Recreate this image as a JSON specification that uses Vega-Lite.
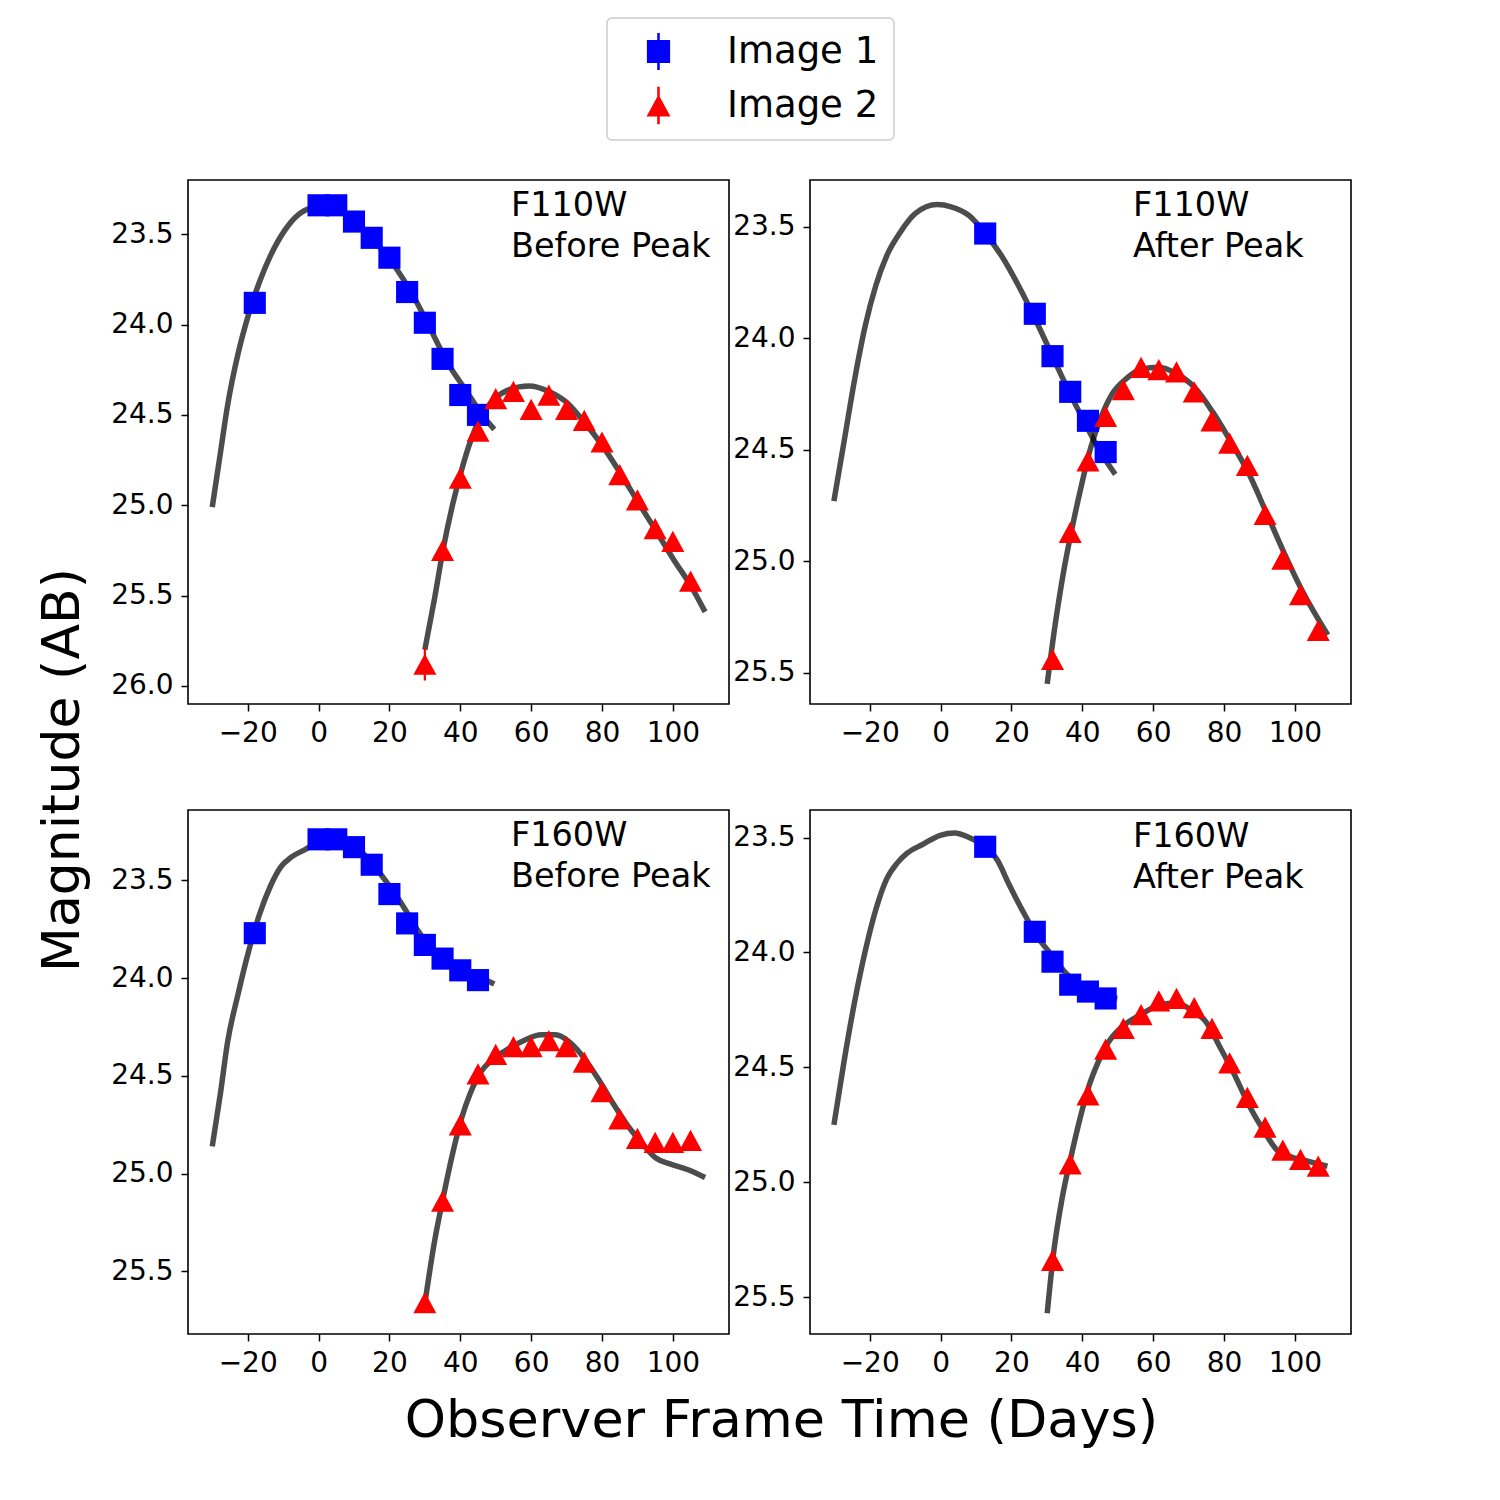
{
  "$schema": "https://vega.github.io/schema/vega-lite/v6.json",
  "background": "white",
  "padding": {"left": 35, "top": 17, "right": 5, "bottom": 5},
  "datasets": {
    "obs": [
      {"band": "F110W", "epoch": "Before Peak", "image": "Image 1", "t": -18, "mag": 23.88},
      {"band": "F110W", "epoch": "Before Peak", "image": "Image 1", "t": 0, "mag": 23.34},
      {"band": "F110W", "epoch": "Before Peak", "image": "Image 1", "t": 5, "mag": 23.34},
      {"band": "F110W", "epoch": "Before Peak", "image": "Image 1", "t": 10, "mag": 23.43},
      {"band": "F110W", "epoch": "Before Peak", "image": "Image 1", "t": 15, "mag": 23.52},
      {"band": "F110W", "epoch": "Before Peak", "image": "Image 1", "t": 20, "mag": 23.63},
      {"band": "F110W", "epoch": "Before Peak", "image": "Image 1", "t": 25, "mag": 23.82},
      {"band": "F110W", "epoch": "Before Peak", "image": "Image 1", "t": 30, "mag": 23.99},
      {"band": "F110W", "epoch": "Before Peak", "image": "Image 1", "t": 35, "mag": 24.19},
      {"band": "F110W", "epoch": "Before Peak", "image": "Image 1", "t": 40, "mag": 24.39},
      {"band": "F110W", "epoch": "Before Peak", "image": "Image 1", "t": 45, "mag": 24.50},
      {"band": "F110W", "epoch": "Before Peak", "image": "Image 2", "t": 30, "mag": 25.88, "err": 0.09},
      {"band": "F110W", "epoch": "Before Peak", "image": "Image 2", "t": 35, "mag": 25.25},
      {"band": "F110W", "epoch": "Before Peak", "image": "Image 2", "t": 40, "mag": 24.85},
      {"band": "F110W", "epoch": "Before Peak", "image": "Image 2", "t": 45, "mag": 24.59},
      {"band": "F110W", "epoch": "Before Peak", "image": "Image 2", "t": 50, "mag": 24.41},
      {"band": "F110W", "epoch": "Before Peak", "image": "Image 2", "t": 55, "mag": 24.37},
      {"band": "F110W", "epoch": "Before Peak", "image": "Image 2", "t": 60, "mag": 24.47},
      {"band": "F110W", "epoch": "Before Peak", "image": "Image 2", "t": 65, "mag": 24.39},
      {"band": "F110W", "epoch": "Before Peak", "image": "Image 2", "t": 70, "mag": 24.47},
      {"band": "F110W", "epoch": "Before Peak", "image": "Image 2", "t": 75, "mag": 24.53},
      {"band": "F110W", "epoch": "Before Peak", "image": "Image 2", "t": 80, "mag": 24.65},
      {"band": "F110W", "epoch": "Before Peak", "image": "Image 2", "t": 85, "mag": 24.83},
      {"band": "F110W", "epoch": "Before Peak", "image": "Image 2", "t": 90, "mag": 24.97},
      {"band": "F110W", "epoch": "Before Peak", "image": "Image 2", "t": 95, "mag": 25.13},
      {"band": "F110W", "epoch": "Before Peak", "image": "Image 2", "t": 100, "mag": 25.20},
      {"band": "F110W", "epoch": "Before Peak", "image": "Image 2", "t": 105, "mag": 25.42},

      {"band": "F110W", "epoch": "After Peak", "image": "Image 1", "t": 12.6, "mag": 23.53},
      {"band": "F110W", "epoch": "After Peak", "image": "Image 1", "t": 26.6, "mag": 23.89},
      {"band": "F110W", "epoch": "After Peak", "image": "Image 1", "t": 31.6, "mag": 24.08},
      {"band": "F110W", "epoch": "After Peak", "image": "Image 1", "t": 36.6, "mag": 24.24},
      {"band": "F110W", "epoch": "After Peak", "image": "Image 1", "t": 41.6, "mag": 24.37},
      {"band": "F110W", "epoch": "After Peak", "image": "Image 1", "t": 46.6, "mag": 24.51},
      {"band": "F110W", "epoch": "After Peak", "image": "Image 2", "t": 31.6, "mag": 25.44},
      {"band": "F110W", "epoch": "After Peak", "image": "Image 2", "t": 36.6, "mag": 24.87},
      {"band": "F110W", "epoch": "After Peak", "image": "Image 2", "t": 41.6, "mag": 24.55},
      {"band": "F110W", "epoch": "After Peak", "image": "Image 2", "t": 46.6, "mag": 24.35},
      {"band": "F110W", "epoch": "After Peak", "image": "Image 2", "t": 51.6, "mag": 24.23},
      {"band": "F110W", "epoch": "After Peak", "image": "Image 2", "t": 56.6, "mag": 24.13},
      {"band": "F110W", "epoch": "After Peak", "image": "Image 2", "t": 61.6, "mag": 24.14},
      {"band": "F110W", "epoch": "After Peak", "image": "Image 2", "t": 66.6, "mag": 24.15},
      {"band": "F110W", "epoch": "After Peak", "image": "Image 2", "t": 71.6, "mag": 24.24},
      {"band": "F110W", "epoch": "After Peak", "image": "Image 2", "t": 76.6, "mag": 24.37},
      {"band": "F110W", "epoch": "After Peak", "image": "Image 2", "t": 81.6, "mag": 24.47},
      {"band": "F110W", "epoch": "After Peak", "image": "Image 2", "t": 86.6, "mag": 24.57},
      {"band": "F110W", "epoch": "After Peak", "image": "Image 2", "t": 91.6, "mag": 24.79},
      {"band": "F110W", "epoch": "After Peak", "image": "Image 2", "t": 96.6, "mag": 24.99},
      {"band": "F110W", "epoch": "After Peak", "image": "Image 2", "t": 101.6, "mag": 25.15},
      {"band": "F110W", "epoch": "After Peak", "image": "Image 2", "t": 106.6, "mag": 25.31},

      {"band": "F160W", "epoch": "Before Peak", "image": "Image 1", "t": -18, "mag": 23.77},
      {"band": "F160W", "epoch": "Before Peak", "image": "Image 1", "t": 0, "mag": 23.29},
      {"band": "F160W", "epoch": "Before Peak", "image": "Image 1", "t": 5, "mag": 23.29},
      {"band": "F160W", "epoch": "Before Peak", "image": "Image 1", "t": 10, "mag": 23.33},
      {"band": "F160W", "epoch": "Before Peak", "image": "Image 1", "t": 15, "mag": 23.42},
      {"band": "F160W", "epoch": "Before Peak", "image": "Image 1", "t": 20, "mag": 23.57},
      {"band": "F160W", "epoch": "Before Peak", "image": "Image 1", "t": 25, "mag": 23.72},
      {"band": "F160W", "epoch": "Before Peak", "image": "Image 1", "t": 30, "mag": 23.83},
      {"band": "F160W", "epoch": "Before Peak", "image": "Image 1", "t": 35, "mag": 23.90},
      {"band": "F160W", "epoch": "Before Peak", "image": "Image 1", "t": 40, "mag": 23.96},
      {"band": "F160W", "epoch": "Before Peak", "image": "Image 1", "t": 45, "mag": 24.01},
      {"band": "F160W", "epoch": "Before Peak", "image": "Image 2", "t": 30, "mag": 25.66},
      {"band": "F160W", "epoch": "Before Peak", "image": "Image 2", "t": 35, "mag": 25.14},
      {"band": "F160W", "epoch": "Before Peak", "image": "Image 2", "t": 40, "mag": 24.75},
      {"band": "F160W", "epoch": "Before Peak", "image": "Image 2", "t": 45, "mag": 24.49},
      {"band": "F160W", "epoch": "Before Peak", "image": "Image 2", "t": 50, "mag": 24.39},
      {"band": "F160W", "epoch": "Before Peak", "image": "Image 2", "t": 55, "mag": 24.35},
      {"band": "F160W", "epoch": "Before Peak", "image": "Image 2", "t": 60, "mag": 24.35},
      {"band": "F160W", "epoch": "Before Peak", "image": "Image 2", "t": 65, "mag": 24.32},
      {"band": "F160W", "epoch": "Before Peak", "image": "Image 2", "t": 70, "mag": 24.35},
      {"band": "F160W", "epoch": "Before Peak", "image": "Image 2", "t": 75, "mag": 24.43},
      {"band": "F160W", "epoch": "Before Peak", "image": "Image 2", "t": 80, "mag": 24.58},
      {"band": "F160W", "epoch": "Before Peak", "image": "Image 2", "t": 85, "mag": 24.72},
      {"band": "F160W", "epoch": "Before Peak", "image": "Image 2", "t": 90, "mag": 24.82},
      {"band": "F160W", "epoch": "Before Peak", "image": "Image 2", "t": 95, "mag": 24.84},
      {"band": "F160W", "epoch": "Before Peak", "image": "Image 2", "t": 100, "mag": 24.84},
      {"band": "F160W", "epoch": "Before Peak", "image": "Image 2", "t": 105, "mag": 24.83},

      {"band": "F160W", "epoch": "After Peak", "image": "Image 1", "t": 12.6, "mag": 23.54},
      {"band": "F160W", "epoch": "After Peak", "image": "Image 1", "t": 26.6, "mag": 23.91},
      {"band": "F160W", "epoch": "After Peak", "image": "Image 1", "t": 31.6, "mag": 24.04},
      {"band": "F160W", "epoch": "After Peak", "image": "Image 1", "t": 36.6, "mag": 24.14},
      {"band": "F160W", "epoch": "After Peak", "image": "Image 1", "t": 41.6, "mag": 24.17},
      {"band": "F160W", "epoch": "After Peak", "image": "Image 1", "t": 46.6, "mag": 24.20},
      {"band": "F160W", "epoch": "After Peak", "image": "Image 2", "t": 31.6, "mag": 25.34},
      {"band": "F160W", "epoch": "After Peak", "image": "Image 2", "t": 36.6, "mag": 24.92},
      {"band": "F160W", "epoch": "After Peak", "image": "Image 2", "t": 41.6, "mag": 24.62},
      {"band": "F160W", "epoch": "After Peak", "image": "Image 2", "t": 46.6, "mag": 24.42},
      {"band": "F160W", "epoch": "After Peak", "image": "Image 2", "t": 51.6, "mag": 24.33},
      {"band": "F160W", "epoch": "After Peak", "image": "Image 2", "t": 56.6, "mag": 24.27},
      {"band": "F160W", "epoch": "After Peak", "image": "Image 2", "t": 61.6, "mag": 24.21},
      {"band": "F160W", "epoch": "After Peak", "image": "Image 2", "t": 66.6, "mag": 24.20},
      {"band": "F160W", "epoch": "After Peak", "image": "Image 2", "t": 71.6, "mag": 24.24},
      {"band": "F160W", "epoch": "After Peak", "image": "Image 2", "t": 76.6, "mag": 24.33},
      {"band": "F160W", "epoch": "After Peak", "image": "Image 2", "t": 81.6, "mag": 24.48},
      {"band": "F160W", "epoch": "After Peak", "image": "Image 2", "t": 86.6, "mag": 24.63},
      {"band": "F160W", "epoch": "After Peak", "image": "Image 2", "t": 91.6, "mag": 24.76},
      {"band": "F160W", "epoch": "After Peak", "image": "Image 2", "t": 96.6, "mag": 24.86},
      {"band": "F160W", "epoch": "After Peak", "image": "Image 2", "t": 101.6, "mag": 24.90},
      {"band": "F160W", "epoch": "After Peak", "image": "Image 2", "t": 106.6, "mag": 24.93}
    ],
    "model": [
      {"band": "F110W", "epoch": "Before Peak", "image": "Image 1", "t": -30, "mag": 25.01},
      {"band": "F110W", "epoch": "Before Peak", "image": "Image 1", "t": -27.7, "mag": 24.71},
      {"band": "F110W", "epoch": "Before Peak", "image": "Image 1", "t": -25.7, "mag": 24.45},
      {"band": "F110W", "epoch": "Before Peak", "image": "Image 1", "t": -22.7, "mag": 24.16},
      {"band": "F110W", "epoch": "Before Peak", "image": "Image 1", "t": -19.7, "mag": 23.94},
      {"band": "F110W", "epoch": "Before Peak", "image": "Image 1", "t": -16.6, "mag": 23.76},
      {"band": "F110W", "epoch": "Before Peak", "image": "Image 1", "t": -13.6, "mag": 23.62},
      {"band": "F110W", "epoch": "Before Peak", "image": "Image 1", "t": -9.6, "mag": 23.48},
      {"band": "F110W", "epoch": "Before Peak", "image": "Image 1", "t": -5.6, "mag": 23.39},
      {"band": "F110W", "epoch": "Before Peak", "image": "Image 1", "t": -1.5, "mag": 23.35},
      {"band": "F110W", "epoch": "Before Peak", "image": "Image 1", "t": 2, "mag": 23.34},
      {"band": "F110W", "epoch": "Before Peak", "image": "Image 1", "t": 6, "mag": 23.37},
      {"band": "F110W", "epoch": "Before Peak", "image": "Image 1", "t": 10, "mag": 23.42},
      {"band": "F110W", "epoch": "Before Peak", "image": "Image 1", "t": 15, "mag": 23.52},
      {"band": "F110W", "epoch": "Before Peak", "image": "Image 1", "t": 21.6, "mag": 23.68},
      {"band": "F110W", "epoch": "Before Peak", "image": "Image 1", "t": 26.7, "mag": 23.84},
      {"band": "F110W", "epoch": "Before Peak", "image": "Image 1", "t": 31.7, "mag": 24.03},
      {"band": "F110W", "epoch": "Before Peak", "image": "Image 1", "t": 36.7, "mag": 24.22},
      {"band": "F110W", "epoch": "Before Peak", "image": "Image 1", "t": 41.8, "mag": 24.37},
      {"band": "F110W", "epoch": "Before Peak", "image": "Image 1", "t": 45.8, "mag": 24.49},
      {"band": "F110W", "epoch": "Before Peak", "image": "Image 1", "t": 49.6, "mag": 24.58},
      {"band": "F110W", "epoch": "Before Peak", "image": "Image 2", "t": 30, "mag": 25.80},
      {"band": "F110W", "epoch": "Before Peak", "image": "Image 2", "t": 32.7, "mag": 25.52},
      {"band": "F110W", "epoch": "Before Peak", "image": "Image 2", "t": 35.2, "mag": 25.24},
      {"band": "F110W", "epoch": "Before Peak", "image": "Image 2", "t": 37.8, "mag": 25.00},
      {"band": "F110W", "epoch": "Before Peak", "image": "Image 2", "t": 40.3, "mag": 24.81},
      {"band": "F110W", "epoch": "Before Peak", "image": "Image 2", "t": 42.8, "mag": 24.65},
      {"band": "F110W", "epoch": "Before Peak", "image": "Image 2", "t": 45.8, "mag": 24.51},
      {"band": "F110W", "epoch": "Before Peak", "image": "Image 2", "t": 49.8, "mag": 24.41},
      {"band": "F110W", "epoch": "Before Peak", "image": "Image 2", "t": 53.8, "mag": 24.36},
      {"band": "F110W", "epoch": "Before Peak", "image": "Image 2", "t": 59.4, "mag": 24.34},
      {"band": "F110W", "epoch": "Before Peak", "image": "Image 2", "t": 65, "mag": 24.37},
      {"band": "F110W", "epoch": "Before Peak", "image": "Image 2", "t": 70, "mag": 24.43},
      {"band": "F110W", "epoch": "Before Peak", "image": "Image 2", "t": 75, "mag": 24.54},
      {"band": "F110W", "epoch": "Before Peak", "image": "Image 2", "t": 80.1, "mag": 24.67},
      {"band": "F110W", "epoch": "Before Peak", "image": "Image 2", "t": 85.1, "mag": 24.82},
      {"band": "F110W", "epoch": "Before Peak", "image": "Image 2", "t": 90.1, "mag": 24.98},
      {"band": "F110W", "epoch": "Before Peak", "image": "Image 2", "t": 95.2, "mag": 25.14},
      {"band": "F110W", "epoch": "Before Peak", "image": "Image 2", "t": 100.2, "mag": 25.30},
      {"band": "F110W", "epoch": "Before Peak", "image": "Image 2", "t": 105.2, "mag": 25.45},
      {"band": "F110W", "epoch": "Before Peak", "image": "Image 2", "t": 109.1, "mag": 25.59},

      {"band": "F110W", "epoch": "After Peak", "image": "Image 1", "t": -30.1, "mag": 24.73},
      {"band": "F110W", "epoch": "After Peak", "image": "Image 1", "t": -27.2, "mag": 24.46},
      {"band": "F110W", "epoch": "After Peak", "image": "Image 1", "t": -24.2, "mag": 24.18},
      {"band": "F110W", "epoch": "After Peak", "image": "Image 1", "t": -21.2, "mag": 23.94},
      {"band": "F110W", "epoch": "After Peak", "image": "Image 1", "t": -18.2, "mag": 23.76},
      {"band": "F110W", "epoch": "After Peak", "image": "Image 1", "t": -15.2, "mag": 23.63},
      {"band": "F110W", "epoch": "After Peak", "image": "Image 1", "t": -11.6, "mag": 23.53},
      {"band": "F110W", "epoch": "After Peak", "image": "Image 1", "t": -7.1, "mag": 23.44},
      {"band": "F110W", "epoch": "After Peak", "image": "Image 1", "t": -1.0, "mag": 23.40},
      {"band": "F110W", "epoch": "After Peak", "image": "Image 1", "t": 3.0, "mag": 23.41},
      {"band": "F110W", "epoch": "After Peak", "image": "Image 1", "t": 8.1, "mag": 23.45},
      {"band": "F110W", "epoch": "After Peak", "image": "Image 1", "t": 12.6, "mag": 23.53},
      {"band": "F110W", "epoch": "After Peak", "image": "Image 1", "t": 17.2, "mag": 23.63},
      {"band": "F110W", "epoch": "After Peak", "image": "Image 1", "t": 22.2, "mag": 23.77},
      {"band": "F110W", "epoch": "After Peak", "image": "Image 1", "t": 26.3, "mag": 23.90},
      {"band": "F110W", "epoch": "After Peak", "image": "Image 1", "t": 31.3, "mag": 24.07},
      {"band": "F110W", "epoch": "After Peak", "image": "Image 1", "t": 35.4, "mag": 24.21},
      {"band": "F110W", "epoch": "After Peak", "image": "Image 1", "t": 40.4, "mag": 24.37},
      {"band": "F110W", "epoch": "After Peak", "image": "Image 1", "t": 44.4, "mag": 24.49},
      {"band": "F110W", "epoch": "After Peak", "image": "Image 1", "t": 49.3, "mag": 24.61},
      {"band": "F110W", "epoch": "After Peak", "image": "Image 2", "t": 30.1, "mag": 25.55},
      {"band": "F110W", "epoch": "After Peak", "image": "Image 2", "t": 32.3, "mag": 25.29},
      {"band": "F110W", "epoch": "After Peak", "image": "Image 2", "t": 34.8, "mag": 25.04},
      {"band": "F110W", "epoch": "After Peak", "image": "Image 2", "t": 37.4, "mag": 24.83},
      {"band": "F110W", "epoch": "After Peak", "image": "Image 2", "t": 39.9, "mag": 24.65},
      {"band": "F110W", "epoch": "After Peak", "image": "Image 2", "t": 42.4, "mag": 24.49},
      {"band": "F110W", "epoch": "After Peak", "image": "Image 2", "t": 45.4, "mag": 24.35},
      {"band": "F110W", "epoch": "After Peak", "image": "Image 2", "t": 48.4, "mag": 24.25},
      {"band": "F110W", "epoch": "After Peak", "image": "Image 2", "t": 52.5, "mag": 24.18},
      {"band": "F110W", "epoch": "After Peak", "image": "Image 2", "t": 56.5, "mag": 24.14},
      {"band": "F110W", "epoch": "After Peak", "image": "Image 2", "t": 61.6, "mag": 24.13},
      {"band": "F110W", "epoch": "After Peak", "image": "Image 2", "t": 66.7, "mag": 24.16},
      {"band": "F110W", "epoch": "After Peak", "image": "Image 2", "t": 71.7, "mag": 24.22},
      {"band": "F110W", "epoch": "After Peak", "image": "Image 2", "t": 76.8, "mag": 24.33},
      {"band": "F110W", "epoch": "After Peak", "image": "Image 2", "t": 81.8, "mag": 24.46},
      {"band": "F110W", "epoch": "After Peak", "image": "Image 2", "t": 86.8, "mag": 24.60},
      {"band": "F110W", "epoch": "After Peak", "image": "Image 2", "t": 91.9, "mag": 24.78},
      {"band": "F110W", "epoch": "After Peak", "image": "Image 2", "t": 96.9, "mag": 24.96},
      {"band": "F110W", "epoch": "After Peak", "image": "Image 2", "t": 102, "mag": 25.13},
      {"band": "F110W", "epoch": "After Peak", "image": "Image 2", "t": 109.3, "mag": 25.33},

      {"band": "F160W", "epoch": "Before Peak", "image": "Image 1", "t": -30, "mag": 24.86},
      {"band": "F160W", "epoch": "Before Peak", "image": "Image 1", "t": -27.7, "mag": 24.59},
      {"band": "F160W", "epoch": "Before Peak", "image": "Image 1", "t": -25.7, "mag": 24.33},
      {"band": "F160W", "epoch": "Before Peak", "image": "Image 1", "t": -22.7, "mag": 24.08},
      {"band": "F160W", "epoch": "Before Peak", "image": "Image 1", "t": -19.7, "mag": 23.86},
      {"band": "F160W", "epoch": "Before Peak", "image": "Image 1", "t": -16.6, "mag": 23.67},
      {"band": "F160W", "epoch": "Before Peak", "image": "Image 1", "t": -13.6, "mag": 23.53},
      {"band": "F160W", "epoch": "Before Peak", "image": "Image 1", "t": -10.6, "mag": 23.43},
      {"band": "F160W", "epoch": "Before Peak", "image": "Image 1", "t": -7.6, "mag": 23.38},
      {"band": "F160W", "epoch": "Before Peak", "image": "Image 1", "t": -3.6, "mag": 23.34},
      {"band": "F160W", "epoch": "Before Peak", "image": "Image 1", "t": 0, "mag": 23.30},
      {"band": "F160W", "epoch": "Before Peak", "image": "Image 1", "t": 4, "mag": 23.28},
      {"band": "F160W", "epoch": "Before Peak", "image": "Image 1", "t": 10, "mag": 23.32},
      {"band": "F160W", "epoch": "Before Peak", "image": "Image 1", "t": 15, "mag": 23.41},
      {"band": "F160W", "epoch": "Before Peak", "image": "Image 1", "t": 17.6, "mag": 23.47},
      {"band": "F160W", "epoch": "Before Peak", "image": "Image 1", "t": 23.8, "mag": 23.63},
      {"band": "F160W", "epoch": "Before Peak", "image": "Image 1", "t": 27.8, "mag": 23.75},
      {"band": "F160W", "epoch": "Before Peak", "image": "Image 1", "t": 32, "mag": 23.85},
      {"band": "F160W", "epoch": "Before Peak", "image": "Image 1", "t": 36, "mag": 23.91},
      {"band": "F160W", "epoch": "Before Peak", "image": "Image 1", "t": 40, "mag": 23.95},
      {"band": "F160W", "epoch": "Before Peak", "image": "Image 1", "t": 45, "mag": 23.99},
      {"band": "F160W", "epoch": "Before Peak", "image": "Image 1", "t": 49.6, "mag": 24.03},
      {"band": "F160W", "epoch": "Before Peak", "image": "Image 2", "t": 30.2, "mag": 25.64},
      {"band": "F160W", "epoch": "Before Peak", "image": "Image 2", "t": 32.7, "mag": 25.35},
      {"band": "F160W", "epoch": "Before Peak", "image": "Image 2", "t": 35.2, "mag": 25.12},
      {"band": "F160W", "epoch": "Before Peak", "image": "Image 2", "t": 37.8, "mag": 24.90},
      {"band": "F160W", "epoch": "Before Peak", "image": "Image 2", "t": 40.3, "mag": 24.72},
      {"band": "F160W", "epoch": "Before Peak", "image": "Image 2", "t": 42.8, "mag": 24.59},
      {"band": "F160W", "epoch": "Before Peak", "image": "Image 2", "t": 45.8, "mag": 24.48},
      {"band": "F160W", "epoch": "Before Peak", "image": "Image 2", "t": 48.8, "mag": 24.42},
      {"band": "F160W", "epoch": "Before Peak", "image": "Image 2", "t": 52.8, "mag": 24.37},
      {"band": "F160W", "epoch": "Before Peak", "image": "Image 2", "t": 57.8, "mag": 24.32},
      {"band": "F160W", "epoch": "Before Peak", "image": "Image 2", "t": 62.9, "mag": 24.29},
      {"band": "F160W", "epoch": "Before Peak", "image": "Image 2", "t": 66.9, "mag": 24.29},
      {"band": "F160W", "epoch": "Before Peak", "image": "Image 2", "t": 71, "mag": 24.33},
      {"band": "F160W", "epoch": "Before Peak", "image": "Image 2", "t": 75, "mag": 24.41},
      {"band": "F160W", "epoch": "Before Peak", "image": "Image 2", "t": 79.1, "mag": 24.52},
      {"band": "F160W", "epoch": "Before Peak", "image": "Image 2", "t": 83.1, "mag": 24.64},
      {"band": "F160W", "epoch": "Before Peak", "image": "Image 2", "t": 87.1, "mag": 24.75},
      {"band": "F160W", "epoch": "Before Peak", "image": "Image 2", "t": 91.1, "mag": 24.84},
      {"band": "F160W", "epoch": "Before Peak", "image": "Image 2", "t": 95.2, "mag": 24.92},
      {"band": "F160W", "epoch": "Before Peak", "image": "Image 2", "t": 99.2, "mag": 24.95},
      {"band": "F160W", "epoch": "Before Peak", "image": "Image 2", "t": 104.3, "mag": 24.98},
      {"band": "F160W", "epoch": "Before Peak", "image": "Image 2", "t": 109.1, "mag": 25.02},

      {"band": "F160W", "epoch": "After Peak", "image": "Image 1", "t": -30.1, "mag": 24.75},
      {"band": "F160W", "epoch": "After Peak", "image": "Image 1", "t": -27.2, "mag": 24.47},
      {"band": "F160W", "epoch": "After Peak", "image": "Image 1", "t": -24.2, "mag": 24.21},
      {"band": "F160W", "epoch": "After Peak", "image": "Image 1", "t": -21.2, "mag": 23.99},
      {"band": "F160W", "epoch": "After Peak", "image": "Image 1", "t": -18.2, "mag": 23.81},
      {"band": "F160W", "epoch": "After Peak", "image": "Image 1", "t": -15.2, "mag": 23.68},
      {"band": "F160W", "epoch": "After Peak", "image": "Image 1", "t": -12.2, "mag": 23.61},
      {"band": "F160W", "epoch": "After Peak", "image": "Image 1", "t": -9.6, "mag": 23.57},
      {"band": "F160W", "epoch": "After Peak", "image": "Image 1", "t": -5.1, "mag": 23.53},
      {"band": "F160W", "epoch": "After Peak", "image": "Image 1", "t": -0.1, "mag": 23.49},
      {"band": "F160W", "epoch": "After Peak", "image": "Image 1", "t": 4, "mag": 23.48},
      {"band": "F160W", "epoch": "After Peak", "image": "Image 1", "t": 8.1, "mag": 23.50},
      {"band": "F160W", "epoch": "After Peak", "image": "Image 1", "t": 12.6, "mag": 23.54},
      {"band": "F160W", "epoch": "After Peak", "image": "Image 1", "t": 16.1, "mag": 23.60},
      {"band": "F160W", "epoch": "After Peak", "image": "Image 1", "t": 19.2, "mag": 23.70},
      {"band": "F160W", "epoch": "After Peak", "image": "Image 1", "t": 23.2, "mag": 23.82},
      {"band": "F160W", "epoch": "After Peak", "image": "Image 1", "t": 27.3, "mag": 23.93},
      {"band": "F160W", "epoch": "After Peak", "image": "Image 1", "t": 31.3, "mag": 24.01},
      {"band": "F160W", "epoch": "After Peak", "image": "Image 1", "t": 35.4, "mag": 24.09},
      {"band": "F160W", "epoch": "After Peak", "image": "Image 1", "t": 41.4, "mag": 24.16},
      {"band": "F160W", "epoch": "After Peak", "image": "Image 1", "t": 46.5, "mag": 24.19},
      {"band": "F160W", "epoch": "After Peak", "image": "Image 1", "t": 49.9, "mag": 24.20},
      {"band": "F160W", "epoch": "After Peak", "image": "Image 2", "t": 30.1, "mag": 25.57},
      {"band": "F160W", "epoch": "After Peak", "image": "Image 2", "t": 31.8, "mag": 25.32},
      {"band": "F160W", "epoch": "After Peak", "image": "Image 2", "t": 34.3, "mag": 25.07},
      {"band": "F160W", "epoch": "After Peak", "image": "Image 2", "t": 36.8, "mag": 24.89},
      {"band": "F160W", "epoch": "After Peak", "image": "Image 2", "t": 39.4, "mag": 24.72},
      {"band": "F160W", "epoch": "After Peak", "image": "Image 2", "t": 41.9, "mag": 24.58},
      {"band": "F160W", "epoch": "After Peak", "image": "Image 2", "t": 44.4, "mag": 24.48},
      {"band": "F160W", "epoch": "After Peak", "image": "Image 2", "t": 47.4, "mag": 24.39},
      {"band": "F160W", "epoch": "After Peak", "image": "Image 2", "t": 51.5, "mag": 24.32},
      {"band": "F160W", "epoch": "After Peak", "image": "Image 2", "t": 56.5, "mag": 24.27},
      {"band": "F160W", "epoch": "After Peak", "image": "Image 2", "t": 61.6, "mag": 24.23},
      {"band": "F160W", "epoch": "After Peak", "image": "Image 2", "t": 66.7, "mag": 24.22},
      {"band": "F160W", "epoch": "After Peak", "image": "Image 2", "t": 70.7, "mag": 24.25},
      {"band": "F160W", "epoch": "After Peak", "image": "Image 2", "t": 74.8, "mag": 24.30},
      {"band": "F160W", "epoch": "After Peak", "image": "Image 2", "t": 78.8, "mag": 24.41},
      {"band": "F160W", "epoch": "After Peak", "image": "Image 2", "t": 82.9, "mag": 24.53},
      {"band": "F160W", "epoch": "After Peak", "image": "Image 2", "t": 86.9, "mag": 24.66},
      {"band": "F160W", "epoch": "After Peak", "image": "Image 2", "t": 91, "mag": 24.77},
      {"band": "F160W", "epoch": "After Peak", "image": "Image 2", "t": 95, "mag": 24.86},
      {"band": "F160W", "epoch": "After Peak", "image": "Image 2", "t": 99.1, "mag": 24.89},
      {"band": "F160W", "epoch": "After Peak", "image": "Image 2", "t": 104.1, "mag": 24.91},
      {"band": "F160W", "epoch": "After Peak", "image": "Image 2", "t": 109.2, "mag": 24.93}
    ]
  },
  "columns": 2,
  "spacing": {"row": 106, "column": 81},
  "bounds": "flush",
  "resolve": {"scale": {"x": "independent", "y": "independent", "color": "shared", "shape": "shared"}},
  "concat": [
    {
      "width": 541, "height": 524,
      "layer": [
        {
          "data": {"name": "model"},
          "transform": [{"filter": "datum.band === 'F110W' && datum.epoch === 'Before Peak'"}],
          "mark": {"type": "line", "color": "black", "opacity": 0.7, "strokeWidth": 5.5, "interpolate": "monotone", "strokeCap": "butt"},
          "encoding": {
            "x": {"field": "t", "type": "quantitative", "scale": {"domain": [-36.85, 115.85], "nice": false, "zero": false},
                  "axis": {"values": [-20, 0, 20, 40, 60, 80, 100], "format": "d", "title": null}},
            "y": {"field": "mag", "type": "quantitative", "title": "Magnitude (AB)",
                  "scale": {"domain": [23.2, 26.1], "reverse": true, "nice": false, "zero": false},
                  "axis": {"values": [23.5, 24, 24.5, 25, 25.5, 26], "format": ".1f",
                           "titleX": -110, "titleY": 589.5, "titleAngle": 270, "titleAlign": "center", "titleBaseline": "alphabetic", "titleFontSize": 52}},
            "detail": {"field": "image"}
          }
        },
        {
          "data": {"name": "obs"},
          "transform": [{"filter": "datum.band === 'F110W' && datum.epoch === 'Before Peak' && datum.err > 0"}],
          "mark": {"type": "errorbar", "thickness": 2.2, "color": "#ff0000"},
          "encoding": {
            "x": {"field": "t", "type": "quantitative", "title": null},
            "y": {"field": "mag", "type": "quantitative", "title": "Magnitude (AB)"},
            "yError": {"field": "err"}
          }
        },
        {
          "data": {"name": "obs"},
          "transform": [{"filter": "datum.band === 'F110W' && datum.epoch === 'Before Peak' && datum.image === 'Image 1'"}],
          "mark": {"type": "point", "shape": "square", "filled": true, "opacity": 1, "size": 490, "strokeWidth": 0},
          "encoding": {
            "x": {"field": "t", "type": "quantitative", "title": null},
            "y": {"field": "mag", "type": "quantitative", "title": "Magnitude (AB)"},
            "color": {"field": "image", "type": "nominal",
                      "scale": {"domain": ["Image 1", "Image 2"], "range": ["#0000ff", "#ff0000"]},
                      "legend": {"title": null, "orient": "none", "legendX": 419, "legendY": -162}}
          }
        },
        {
          "data": {"name": "obs"},
          "transform": [{"filter": "datum.band === 'F110W' && datum.epoch === 'Before Peak' && datum.image === 'Image 2'"}],
          "mark": {"type": "point", "shape": "M0,-0.95L1.03,0.95L-1.03,0.95Z", "filled": true, "opacity": 1, "size": 500, "strokeWidth": 0},
          "encoding": {
            "x": {"field": "t", "type": "quantitative", "title": null},
            "y": {"field": "mag", "type": "quantitative", "title": "Magnitude (AB)"},
            "color": {"field": "image", "type": "nominal"}
          }
        },
        {
          "description": "legend key only: square / triangle with an error-bar stroke",
          "data": {"name": "obs"},
          "transform": [{"filter": "false"}],
          "mark": {"type": "point", "filled": true, "opacity": 1, "size": 540, "strokeWidth": 0},
          "encoding": {
            "x": {"field": "t", "type": "quantitative", "title": null},
            "y": {"field": "mag", "type": "quantitative", "title": "Magnitude (AB)"},
            "color": {"field": "image", "type": "nominal"},
            "shape": {"field": "image", "type": "nominal",
                      "scale": {"domain": ["Image 1", "Image 2"],
                                "range": ["M-1,-1H1V1H-1ZM-0.11,-1.6H0.11V1.6H-0.11Z", "M0,-0.95L1.03,0.95L-1.03,0.95ZM-0.11,-1.62H0.11V1.62H-0.11Z"]},
                      "legend": {"title": null, "orient": "none", "legendX": 419, "legendY": -162}}
          }
        },
        {
          "data": {"values": [{}]},
          "mark": {"type": "text", "text": ["F110W", "Before Peak"], "align": "left", "baseline": "alphabetic", "fontSize": 33.5, "lineHeight": 41, "color": "black"},
          "encoding": {"x": {"datum": 54.3, "type": "quantitative"}, "y": {"datum": 23.399, "type": "quantitative"}}
        }
      ]
    },
    {
      "width": 541, "height": 524,
      "layer": [
        {
          "data": {"name": "model"},
          "transform": [{"filter": "datum.band === 'F110W' && datum.epoch === 'After Peak'"}],
          "mark": {"type": "line", "color": "black", "opacity": 0.7, "strokeWidth": 5.5, "interpolate": "monotone", "strokeCap": "butt"},
          "encoding": {
            "x": {"field": "t", "type": "quantitative", "scale": {"domain": [-36.85, 115.85], "nice": false, "zero": false},
                  "axis": {"values": [-20, 0, 20, 40, 60, 80, 100], "format": "d", "title": null}},
            "y": {"field": "mag", "type": "quantitative", "scale": {"domain": [23.29, 25.64], "reverse": true, "nice": false, "zero": false},
                  "axis": {"values": [23.5, 24, 24.5, 25, 25.5], "format": ".1f", "title": null}},
            "detail": {"field": "image"}
          }
        },
        {
          "data": {"name": "obs"},
          "transform": [{"filter": "datum.band === 'F110W' && datum.epoch === 'After Peak' && datum.image === 'Image 1'"}],
          "mark": {"type": "point", "shape": "square", "filled": true, "opacity": 1, "size": 490, "strokeWidth": 0},
          "encoding": {
            "x": {"field": "t", "type": "quantitative"},
            "y": {"field": "mag", "type": "quantitative"},
            "color": {"field": "image", "type": "nominal"}
          }
        },
        {
          "data": {"name": "obs"},
          "transform": [{"filter": "datum.band === 'F110W' && datum.epoch === 'After Peak' && datum.image === 'Image 2'"}],
          "mark": {"type": "point", "shape": "M0,-0.95L1.03,0.95L-1.03,0.95Z", "filled": true, "opacity": 1, "size": 500, "strokeWidth": 0},
          "encoding": {
            "x": {"field": "t", "type": "quantitative"},
            "y": {"field": "mag", "type": "quantitative"},
            "color": {"field": "image", "type": "nominal"}
          }
        },
        {
          "data": {"values": [{}]},
          "mark": {"type": "text", "text": ["F110W", "After Peak"], "align": "left", "baseline": "alphabetic", "fontSize": 33.5, "lineHeight": 41, "color": "black"},
          "encoding": {"x": {"datum": 54.3, "type": "quantitative"}, "y": {"datum": 23.453, "type": "quantitative"}}
        }
      ]
    },
    {
      "width": 541, "height": 524,
      "layer": [
        {
          "data": {"name": "model"},
          "transform": [{"filter": "datum.band === 'F160W' && datum.epoch === 'Before Peak'"}],
          "mark": {"type": "line", "color": "black", "opacity": 0.7, "strokeWidth": 5.5, "interpolate": "monotone", "strokeCap": "butt"},
          "encoding": {
            "x": {"field": "t", "type": "quantitative", "scale": {"domain": [-36.85, 115.85], "nice": false, "zero": false},
                  "axis": {"values": [-20, 0, 20, 40, 60, 80, 100], "format": "d", "title": "Observer Frame Time (Days)",
                           "titleX": 593, "titleY": 102.5, "titleAlign": "center", "titleBaseline": "alphabetic", "titleFontSize": 52.4}},
            "y": {"field": "mag", "type": "quantitative", "scale": {"domain": [23.14, 25.82], "reverse": true, "nice": false, "zero": false},
                  "axis": {"values": [23.5, 24, 24.5, 25, 25.5], "format": ".1f", "title": null}},
            "detail": {"field": "image"}
          }
        },
        {
          "data": {"name": "obs"},
          "transform": [{"filter": "datum.band === 'F160W' && datum.epoch === 'Before Peak' && datum.image === 'Image 1'"}],
          "mark": {"type": "point", "shape": "square", "filled": true, "opacity": 1, "size": 490, "strokeWidth": 0},
          "encoding": {
            "x": {"field": "t", "type": "quantitative"},
            "y": {"field": "mag", "type": "quantitative"},
            "color": {"field": "image", "type": "nominal"}
          }
        },
        {
          "data": {"name": "obs"},
          "transform": [{"filter": "datum.band === 'F160W' && datum.epoch === 'Before Peak' && datum.image === 'Image 2'"}],
          "mark": {"type": "point", "shape": "M0,-0.95L1.03,0.95L-1.03,0.95Z", "filled": true, "opacity": 1, "size": 500, "strokeWidth": 0},
          "encoding": {
            "x": {"field": "t", "type": "quantitative"},
            "y": {"field": "mag", "type": "quantitative"},
            "color": {"field": "image", "type": "nominal"}
          }
        },
        {
          "data": {"values": [{}]},
          "mark": {"type": "text", "text": ["F160W", "Before Peak"], "align": "left", "baseline": "alphabetic", "fontSize": 33.5, "lineHeight": 41, "color": "black"},
          "encoding": {"x": {"datum": 54.3, "type": "quantitative"}, "y": {"datum": 23.326, "type": "quantitative"}}
        }
      ]
    },
    {
      "width": 541, "height": 524,
      "layer": [
        {
          "data": {"name": "model"},
          "transform": [{"filter": "datum.band === 'F160W' && datum.epoch === 'After Peak'"}],
          "mark": {"type": "line", "color": "black", "opacity": 0.7, "strokeWidth": 5.5, "interpolate": "monotone", "strokeCap": "butt"},
          "encoding": {
            "x": {"field": "t", "type": "quantitative", "scale": {"domain": [-36.85, 115.85], "nice": false, "zero": false},
                  "axis": {"values": [-20, 0, 20, 40, 60, 80, 100], "format": "d", "title": null}},
            "y": {"field": "mag", "type": "quantitative", "scale": {"domain": [23.38, 25.66], "reverse": true, "nice": false, "zero": false},
                  "axis": {"values": [23.5, 24, 24.5, 25, 25.5], "format": ".1f", "title": null}},
            "detail": {"field": "image"}
          }
        },
        {
          "data": {"name": "obs"},
          "transform": [{"filter": "datum.band === 'F160W' && datum.epoch === 'After Peak' && datum.image === 'Image 1'"}],
          "mark": {"type": "point", "shape": "square", "filled": true, "opacity": 1, "size": 490, "strokeWidth": 0},
          "encoding": {
            "x": {"field": "t", "type": "quantitative"},
            "y": {"field": "mag", "type": "quantitative"},
            "color": {"field": "image", "type": "nominal"}
          }
        },
        {
          "data": {"name": "obs"},
          "transform": [{"filter": "datum.band === 'F160W' && datum.epoch === 'After Peak' && datum.image === 'Image 2'"}],
          "mark": {"type": "point", "shape": "M0,-0.95L1.03,0.95L-1.03,0.95Z", "filled": true, "opacity": 1, "size": 500, "strokeWidth": 0},
          "encoding": {
            "x": {"field": "t", "type": "quantitative"},
            "y": {"field": "mag", "type": "quantitative"},
            "color": {"field": "image", "type": "nominal"}
          }
        },
        {
          "data": {"values": [{}]},
          "mark": {"type": "text", "text": ["F160W", "After Peak"], "align": "left", "baseline": "alphabetic", "fontSize": 33.5, "lineHeight": 41, "color": "black"},
          "encoding": {"x": {"datum": 54.3, "type": "quantitative"}, "y": {"datum": 23.542, "type": "quantitative"}}
        }
      ]
    }
  ],
  "config": {
    "font": "DejaVu Sans",
    "view": {"stroke": "black", "strokeWidth": 1.6, "fill": "white"},
    "text": {"font": "DejaVu Sans"},
    "axis": {
      "domain": false, "grid": false, "ticks": true, "tickColor": "black", "tickSize": 7, "tickWidth": 1.5,
      "labelFont": "DejaVu Sans", "labelFontSize": 28, "labelColor": "black",
      "titleFont": "DejaVu Sans", "titleFontWeight": "normal", "titleColor": "black"
    },
    "axisX": {"labelPadding": 8},
    "axisY": {"labelPadding": 8},
    "legend": {
      "labelFont": "DejaVu Sans", "labelFontSize": 37, "labelColor": "black",
      "symbolSize": 540, "symbolStrokeWidth": 0,
      "padding": 15, "rowPadding": 15, "symbolOffset": 18, "labelOffset": 50,
      "strokeColor": "#cccccc", "strokeWidth": 1.5, "cornerRadius": 5, "fillColor": "white"
    }
  }
}
